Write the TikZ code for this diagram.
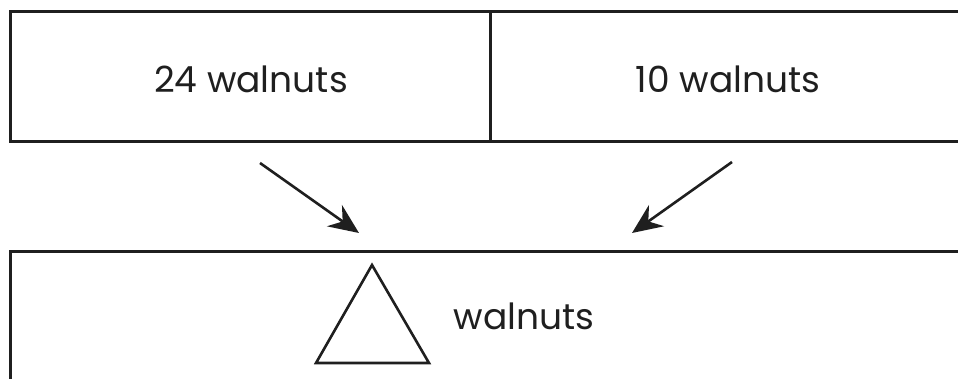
\documentclass[tikz,border=0pt]{standalone}
\usepackage{fontspec}
\setmainfont{Poppins}
\usetikzlibrary{arrows.meta}
\begin{document}
\begin{tikzpicture}[x=1pt,y=-1pt,
  boxline/.style={draw=black!88,line width=3pt},
  lbl/.style={font=\fontsize{36}{36}\selectfont,text=black!88,inner sep=0pt,anchor=base},
  arr/.style={draw=black!88,line width=2.6pt,-{Stealth[length=30pt,width=26pt,inset=10pt]}}]
\useasboundingbox (0,0) rectangle (958,379);
\clip (0,0) rectangle (958,379);
\draw[boxline] (10,12) rectangle (975,142);
\draw[boxline] (490,12) -- (490,142);
\draw[boxline] (10,252) rectangle (975,400);
\node[lbl] (a) at (251,93) {24 walnuts};
\node[lbl] (b) at (728,93) {10 walnuts};
\node[lbl] (c) at (524,329) {walnuts};
\coordinate (s1) at (260,163);
\coordinate (e1) at (359,233);
\coordinate (s2) at (732,162);
\coordinate (e2) at (632,233);
\draw[arr] (s1) -- (e1);
\draw[arr] (s2) -- (e2);
\coordinate (t1) at (372,265);
\coordinate (t2) at (316,363);
\coordinate (t3) at (429,363);
\draw[draw=black!88,line width=2.6pt,line join=miter] (t1) -- (t2) -- (t3) -- cycle;
\end{tikzpicture}
\end{document}
